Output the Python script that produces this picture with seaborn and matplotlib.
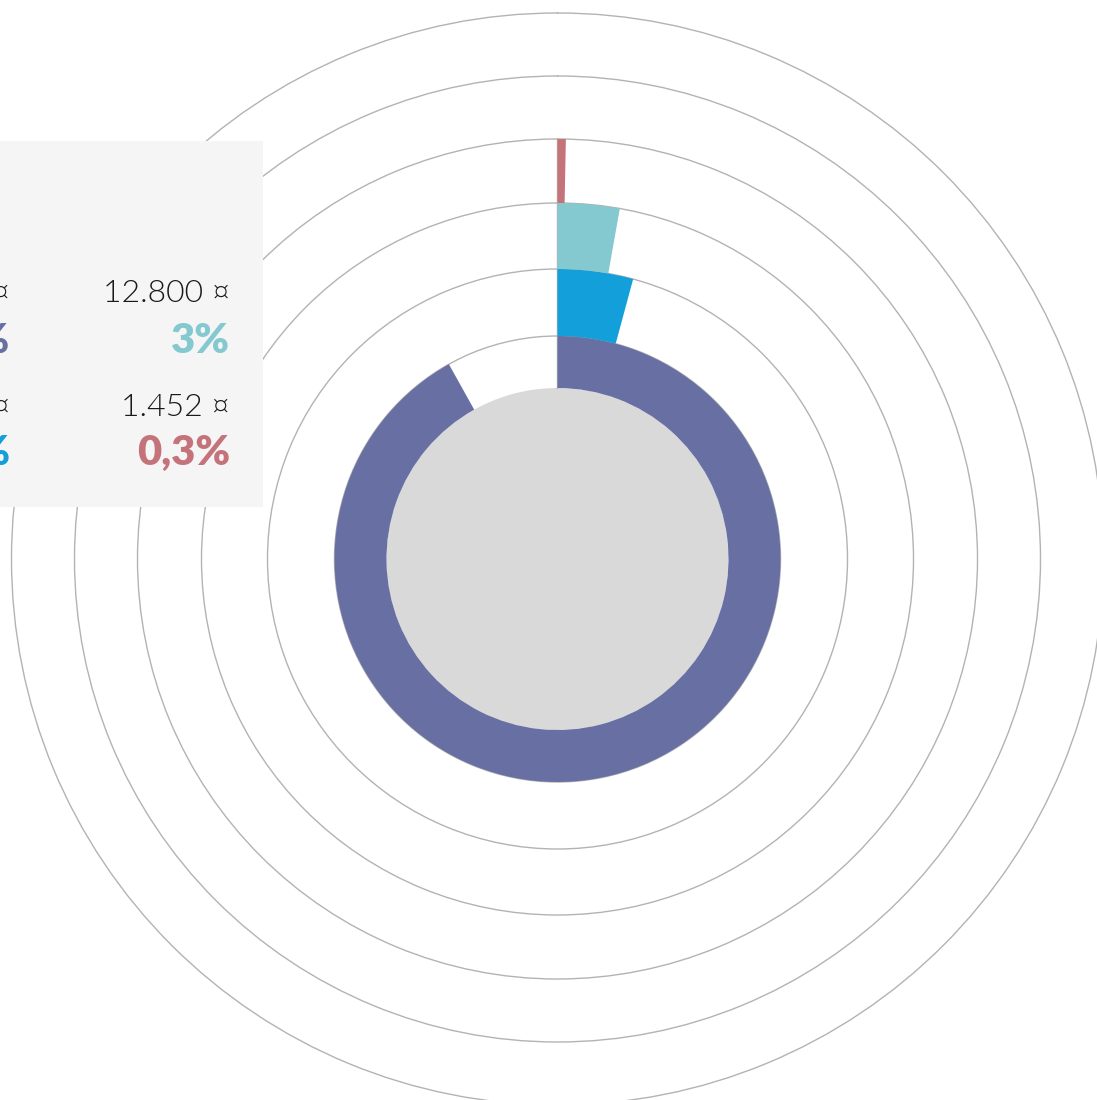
import numpy as np
import matplotlib
matplotlib.use("Agg")
import matplotlib.pyplot as plt
from matplotlib.patches import Rectangle
import seaborn as sns

sns.set_theme(style="white")
plt.rcParams['font.family'] = ['Lato', 'DejaVu Sans']

# ---- data ----
series = ["A", "B", "C", "D"]
amounts = [420000, 19200, 12800, 1452]
total = 457000
amount_labels = ["420.000 ¤", "19.200 ¤", "12.800 ¤", "1.452 ¤"]
pct_labels = ["92%", "4%", "3%", "0,3%"]
colors = ["#6870a3", "#129fda", "#83c9cf", "#c5737a"]

# ---- layout (pixels) ----
W, H = 1097, 1100
cx, cy = 557.5, 559
RMAX = 560
hole_r = 171
ring_edges = [171, 223, 290, 356, 420]
grid_r = [223, 290, 356, 420, 483, 546]

fig = plt.figure(figsize=(W / 100, H / 100), dpi=100)
fig.patch.set_facecolor("white")

ax = fig.add_axes([(cx - RMAX) / W, (H - cy - RMAX) / H, 2 * RMAX / W, 2 * RMAX / H],
                  projection="polar")
ax.set_theta_zero_location("N")
ax.set_theta_direction(-1)
ax.set_ylim(0, RMAX)
ax.set_facecolor("none")
ax.spines["polar"].set_visible(False)
ax.set_xticks([])
ax.set_rgrids(grid_r, labels=[""] * len(grid_r))
ax.yaxis.grid(True, color="#b3b3b3", linewidth=1.0)
ax.xaxis.grid(False)

# grey centre disc
ax.bar(0, hole_r, width=2 * np.pi, bottom=0, color="#d9d9d9", linewidth=0, zorder=2)

shares = np.array(amounts) / total
for i, (s, c) in enumerate(zip(shares, colors)):
    b = ring_edges[i]
    h = ring_edges[i + 1] - ring_edges[i]
    ax.bar(0, h, width=s * 2 * np.pi, bottom=b, align="edge", color=c,
           linewidth=0, zorder=3)

ax.plot([0, 0], [hole_r, ring_edges[-1]], color="#b3b3b3", linewidth=1.0, zorder=2.5)

# ---- overlay for legend panel ----
ov = fig.add_axes([0, 0, 1, 1], zorder=5)
ov.set_xlim(0, W)
ov.set_ylim(H, 0)
ov.axis("off")
ov.patch.set_alpha(0)
ov.add_patch(Rectangle((-5, 141), 268, 366, facecolor="#f5f5f5", edgecolor="none"))

rows = [(302, 353), (416, 465)]
cols = [10, 230]
order = {0: (0, 0), 1: (1, 0), 2: (0, 1), 3: (1, 1)}  # (row, col)
for i in range(len(series)):
    r, c = order[i]
    x = cols[c]
    ov.text(x, rows[r][0], amount_labels[i], ha="right", va="baseline",
            fontsize=23, fontweight=300, color="#1a1a1a")
    ov.text(x, rows[r][1], pct_labels[i], ha="right", va="baseline",
            fontsize=30, fontweight="heavy", color=colors[i])

fig.savefig("out.png", dpi=100)
